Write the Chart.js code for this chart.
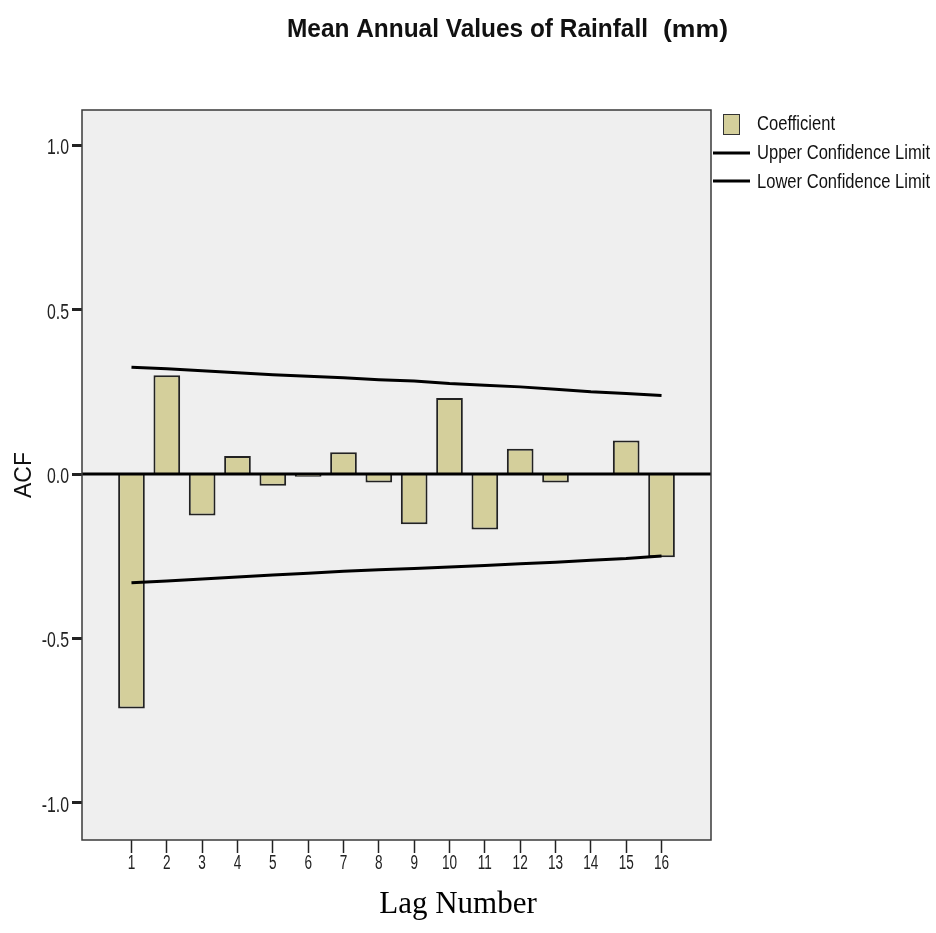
<!DOCTYPE html>
<html>
<head>
<meta charset="utf-8">
<title>Mean Annual Values of Rainfall (mm) – ACF</title>
<script src="https://cdn.jsdelivr.net/npm/chart.js@4/dist/chart.umd.min.js"></script>
<style>
  html, body { margin: 0; padding: 0; background: #ffffff; }
  #acf { display: block; }
</style>
</head>
<body>
<canvas id="acf" width="936" height="933"></canvas>
<script>
// Lags and autocorrelation coefficients
const lags = [1, 2, 3, 4, 5, 6, 7, 8, 9, 10, 11, 12, 13, 14, 15, 16];
const acf = [-0.713, 0.300, -0.126, 0.055, -0.036, -0.008, 0.066, -0.026,
             -0.153, 0.231, -0.169, 0.077, -0.026, 0.002, 0.102, -0.253];

// Confidence limits per lag
const upperLimit = [0.325, 0.320, 0.314, 0.308, 0.302, 0.297, 0.293, 0.287,
                    0.283, 0.275, 0.270, 0.265, 0.258, 0.250, 0.245, 0.239];
const lowerLimit = [-0.331, -0.325, -0.319, -0.313, -0.307, -0.302, -0.296, -0.291,
                    -0.287, -0.283, -0.278, -0.273, -0.268, -0.262, -0.257, -0.249];

// Axis ticks
const yTickValues = [-1.0, -0.5, 0.0, 0.5, 1.0];
const yTickLabels = ['-1.0', '-0.5', '0.0', '0.5', '1.0'];
const xTickLabels = ['1', '2', '3', '4', '5', '6', '7', '8', '9', '10', '11', '12', '13', '14', '15', '16'];

// Text
const chartTitle = 'Mean Annual Values of Rainfall';
const titleUnit = '(mm)';
const yAxisTitle = 'ACF';
const xAxisTitle = 'Lag Number';
const seriesNames = ['Coefficient', 'Upper Confidence Limit', 'Lower Confidence Limit'];

const BAR_FILL = '#d4cf9b';
const BAR_EDGE = '#222222';
const PLOT_BG = '#efefef';

// Draws narrow text by squeezing a regular face horizontally
function squeezedText(ctx, text, x, y, font, scaleX, align, color) {
  ctx.save();
  ctx.font = font;
  ctx.fillStyle = color || '#1a1a1a';
  ctx.textBaseline = 'middle';
  ctx.textAlign = 'left';
  const w = ctx.measureText(text).width * scaleX;
  const left = align === 'right' ? x - w : (align === 'center' ? x - w / 2 : x);
  ctx.translate(left, y);
  ctx.scale(scaleX, 1);
  ctx.fillText(text, 0, 0);
  ctx.restore();
}

// Draws text squeezed to span [x0, x1]
function fittedText(ctx, text, x0, x1, y, font, baseline, color) {
  ctx.save();
  ctx.font = font;
  ctx.fillStyle = color || '#111';
  ctx.textBaseline = baseline || 'alphabetic';
  ctx.textAlign = 'left';
  const s = (x1 - x0) / ctx.measureText(text).width;
  ctx.translate(x0, y);
  ctx.scale(s, 1);
  ctx.fillText(text, 0, 0);
  ctx.restore();
}

const decor = {
  id: 'decor',
  beforeDraw(chart) {
    const { ctx, chartArea: a } = chart;
    ctx.save();
    ctx.fillStyle = '#ffffff';
    ctx.fillRect(0, 0, chart.width, chart.height);
    ctx.fillStyle = PLOT_BG;
    ctx.fillRect(a.left, a.top, a.right - a.left, a.bottom - a.top);
    ctx.restore();
  },
  afterDatasetsDraw(chart) {
    const { ctx, chartArea: a, scales: { y } } = chart;
    ctx.save();
    // zero reference line
    const y0 = y.getPixelForValue(0);
    ctx.strokeStyle = '#000';
    ctx.lineWidth = 3;
    ctx.beginPath();
    ctx.moveTo(a.left, y0);
    ctx.lineTo(a.right, y0);
    ctx.stroke();
    // plot frame
    ctx.strokeStyle = '#3a3a3a';
    ctx.lineWidth = 1.5;
    ctx.strokeRect(a.left, a.top, a.right - a.left, a.bottom - a.top);
    ctx.restore();
  },
  afterDraw(chart) {
    const { ctx, chartArea: a, scales: { x, y } } = chart;

    // y tick labels
    yTickValues.forEach((v, i) => {
      squeezedText(ctx, yTickLabels[i], a.left - 13, y.getPixelForValue(v) + 3,
                   '22px "Liberation Sans", Arial, sans-serif', 0.72, 'right', '#222');
    });
    // x tick labels
    lags.forEach((v, i) => {
      squeezedText(ctx, xTickLabels[i], x.getPixelForValue(v), a.bottom + 23,
                   '20px "Liberation Sans", Arial, sans-serif', 0.68, 'center', '#222');
    });

    // axis titles
    ctx.save();
    ctx.font = '23px "Liberation Sans", Arial, sans-serif';
    ctx.fillStyle = '#111';
    ctx.textAlign = 'center';
    ctx.textBaseline = 'middle';
    ctx.translate(25, (a.top + a.bottom) / 2);
    ctx.rotate(-Math.PI / 2);
    ctx.fillText(yAxisTitle, 0, 0);
    ctx.restore();

    ctx.save();
    ctx.font = '31px "Liberation Serif", "Times New Roman", serif';
    ctx.fillStyle = '#000';
    ctx.textAlign = 'center';
    ctx.textBaseline = 'middle';
    ctx.fillText(xAxisTitle, 458, 905);
    ctx.restore();

    // chart title
    fittedText(ctx, chartTitle, 287, 648, 37, 'bold 26px "Liberation Sans", Arial, sans-serif', 'alphabetic', '#111');
    fittedText(ctx, titleUnit, 663, 728, 37, 'bold 23px "Liberation Sans", Arial, sans-serif', 'alphabetic', '#111');

    // legend
    ctx.save();
    ctx.fillStyle = BAR_FILL;
    ctx.strokeStyle = '#333';
    ctx.lineWidth = 1;
    ctx.fillRect(723.5, 114.5, 16, 20);
    ctx.strokeRect(723.5, 114.5, 16, 20);
    ctx.strokeStyle = '#000';
    ctx.lineWidth = 3;
    [153, 181].forEach(ly => {
      ctx.beginPath();
      ctx.moveTo(713, ly);
      ctx.lineTo(750, ly);
      ctx.stroke();
    });
    ctx.restore();
    const lf = '21px "Liberation Sans", Arial, sans-serif';
    fittedText(ctx, seriesNames[0], 757, 835, 124, lf, 'middle', '#111');
    fittedText(ctx, seriesNames[1], 757, 930, 153, lf, 'middle', '#111');
    fittedText(ctx, seriesNames[2], 757, 930, 182, lf, 'middle', '#111');
  }
};

const ctx = document.getElementById('acf').getContext('2d');
new Chart(ctx, {
  type: 'bar',
  data: {
    datasets: [
      {
        type: 'line',
        label: seriesNames[1],
        data: lags.map((l, i) => ({ x: l, y: upperLimit[i] })),
        borderColor: '#000',
        borderWidth: 3,
        pointRadius: 0,
        tension: 0,
        fill: false,
        order: 1
      },
      {
        type: 'line',
        label: seriesNames[2],
        data: lags.map((l, i) => ({ x: l, y: lowerLimit[i] })),
        borderColor: '#000',
        borderWidth: 3,
        pointRadius: 0,
        tension: 0,
        fill: false,
        order: 1
      },
      {
        type: 'bar',
        label: seriesNames[0],
        data: lags.map((l, i) => ({ x: l, y: acf[i] })),
        backgroundColor: BAR_FILL,
        borderColor: BAR_EDGE,
        borderWidth: 2,
        barPercentage: 0.755,
        categoryPercentage: 1.0,
        order: 2
      }
    ]
  },
  options: {
    responsive: false,
    animation: false,
    devicePixelRatio: 1,
    layout: { padding: { top: 110, right: 225, bottom: 0, left: 0 } },
    plugins: {
      legend: { display: false },
      title: { display: false },
      tooltip: { enabled: false }
    },
    scales: {
      x: {
        type: 'linear',
        min: -0.4,
        max: 17.4,
        offset: false,
        border: { display: false },
        grid: {
          offset: false,
          drawOnChartArea: false,
          drawTicks: true,
          tickLength: 13,
          tickColor: '#222',
          tickWidth: 1.5
        },
        ticks: { display: false },
        afterBuildTicks: s => { s.ticks = lags.map(v => ({ value: v })); },
        afterFit: s => { s.height = 93; }
      },
      y: {
        type: 'linear',
        min: -1.113,
        max: 1.107,
        border: { display: false },
        grid: {
          drawOnChartArea: false,
          drawTicks: true,
          tickLength: 10,
          tickColor: '#222',
          tickWidth: 3
        },
        ticks: { display: false },
        afterBuildTicks: s => { s.ticks = yTickValues.map(v => ({ value: v })); },
        afterFit: s => { s.width = 82; }
      }
    }
  },
  plugins: [decor]
});
</script>
</body>
</html>
